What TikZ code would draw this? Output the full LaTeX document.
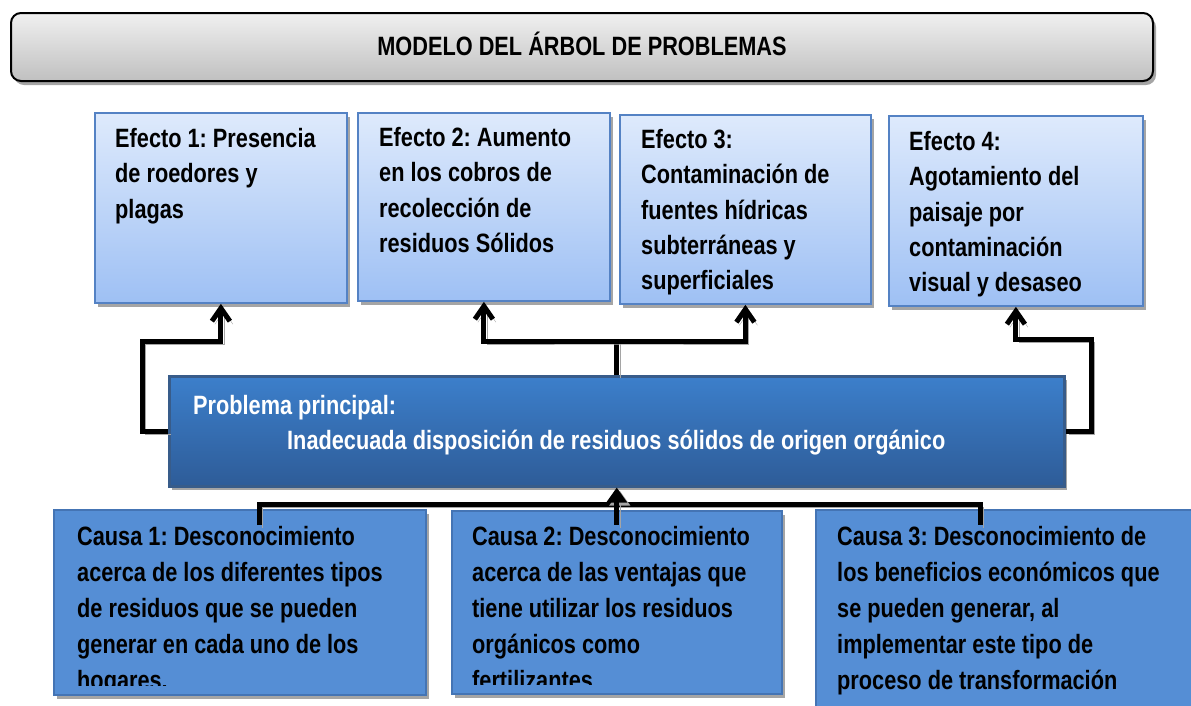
\documentclass[tikz,border=0pt]{standalone}
\usepackage{fontspec}
\setmainfont{Liberation Sans}[FakeStretch=0.82]
\usetikzlibrary{arrows.meta, positioning, shadows}
\definecolor{titletop}{RGB}{240,240,240}
\definecolor{titlebot}{RGB}{192,192,192}
\definecolor{efftop}{RGB}{222,234,252}
\definecolor{effbot}{RGB}{158,192,244}
\definecolor{effline}{RGB}{84,130,196}
\definecolor{probtop}{RGB}{60,127,203}
\definecolor{probbot}{RGB}{46,92,152}
\definecolor{probline}{RGB}{56,92,138}
\definecolor{causefill}{RGB}{85,142,213}
\definecolor{causeline}{RGB}{68,116,180}
\definecolor{shadowgray}{RGB}{165,165,165}
\tikzset{
    boxshadow/.style={drop shadow={shadow xshift=3pt, shadow yshift=-4pt, fill=shadowgray, opacity=1}},
    titlebox/.style={rectangle, draw=black, line width=2pt, rounded corners=10pt, top color=titletop, bottom color=titlebot, anchor=north west, inner sep=0pt, minimum width=1142pt, minimum height=68pt, boxshadow},
    effbox/.style={rectangle, draw=effline, line width=1.8pt, top color=efftop, bottom color=effbot, anchor=north west, inner sep=0pt, boxshadow},
    probbox/.style={rectangle, draw=probline, line width=2.5pt, top color=probtop, bottom color=probbot, anchor=north west, inner sep=0pt, minimum width=895pt, minimum height=110pt, boxshadow},
    causebox/.style={rectangle, draw=causeline, line width=2pt, fill=causefill, anchor=north west, inner sep=0pt, boxshadow},
    btext/.style={align=left, inner sep=0pt, font=\fontsize{26.5}{36}\selectfont\bfseries\frenchspacing},
    efftext/.style={btext, font=\fontsize{26.5}{35.3}\selectfont\bfseries\frenchspacing},
    link/.style={line width=5pt, preaction={draw=shadowgray, transform canvas={shift={(3pt,-3pt)}}}},
    uplink/.style={link, -{Straight Barb[length=13pt, width=18pt]}}
}
\begin{document}
\begin{tikzpicture}[x=1pt, y=-1pt]
    \clip (0,0) rectangle (1191,705);

    % Title
    \node (title) [titlebox] at (10,12) {};
    \node (title_t) [btext, yshift=3pt] at (title.center) {MODELO DEL ÁRBOL DE PROBLEMAS};

    % Effects Row
    \node (e1) [effbox, minimum width=252pt, minimum height=190pt] at (94,112) {};
    \node (e2) [effbox, minimum width=252pt, minimum height=188pt] at (357,112) {};
    \node (e3) [effbox, minimum width=251pt, minimum height=189pt] at (619,114) {};
    \node (e4) [effbox, minimum width=254pt, minimum height=190pt] at (888,115) {};
    \node (e1_t) [efftext, below right=16pt and 21pt of e1.north west] {Efecto 1: Presencia\\de roedores y\\plagas};
    \node (e2_t) [efftext, below right=15pt and 22pt of e2.north west] {Efecto 2: Aumento\\en los cobros de\\recolección de\\residuos Sólidos};
    \node (e3_t) [efftext, below right=15pt and 22pt of e3.north west] {Efecto 3:\\Contaminación de\\fuentes hídricas\\subterráneas y\\superficiales};
    \node (e4_t) [efftext, below right=16pt and 21pt of e4.north west] {Efecto 4:\\Agotamiento del\\paisaje por\\contaminación\\visual y desaseo};

    % Main problem
    \node (prob) [probbox] at (168,375) {};
    \node (prob_t1) [btext, text=white, below right=20pt and 25pt of prob.north west] {Problema principal:};
    \node (prob_t2) [btext, text=white, below right=55pt and 119pt of prob.north west] {Inadecuada disposición de residuos sólidos de origen orgánico};

    % Causes Row
    \node (c1) [causebox, minimum width=372pt, minimum height=185pt] at (53,509) {};
    \node (c2) [causebox, minimum width=330pt, minimum height=183pt] at (451,510) {};
    \node (c3) [causebox, minimum width=400pt, minimum height=220pt] at (815,509) {};
    \begin{scope}
        \clip (c1.north west) rectangle ([yshift=11pt]c1.south east);
        \node (c1_t) [btext, below right=17pt and 24pt of c1.north west] {Causa 1: Desconocimiento\\acerca de los diferentes tipos\\de residuos que se pueden\\generar en cada uno de los\\hogares.};
    \end{scope}
    \begin{scope}
        \clip (c2.north west) rectangle ([yshift=11pt]c2.south east);
        \node (c2_t) [btext, below right=16pt and 21pt of c2.north west] {Causa 2: Desconocimiento\\acerca de las ventajas que\\tiene utilizar los residuos\\orgánicos como\\fertilizantes.};
    \end{scope}
    \node (c3_t) [btext, below right=17pt and 22pt of c3.north west] {Causa 3: Desconocimiento de\\los beneficios económicos que\\se pueden generar, al\\implementar este tipo de\\proceso de transformación};

    % Junctions
    \coordinate (jl) at (142,341);
    \coordinate (jm) at (617,341);
    \coordinate (jr) at (1091,339);
    \coordinate (jb) at (617,504);
    \coordinate (b1) at (259,525);
    \coordinate (b3) at (980,525);
    \coordinate (b2) at ([yshift=-37pt]prob.south);

    % Problem -> effects
    \draw [uplink] (prob.west) -| (jl) -| (e1.south);
    \draw [link] (prob.north) -- (prob.north |- jm);
    \draw [link, {Straight Barb[length=13pt, width=18pt]}-{Straight Barb[length=13pt, width=18pt]}] (e2.south) |- (jm) -| (e3.south);
    \draw [uplink] (prob.east) -| (jr) -| (e4.south);

    % Causes -> problem
    \draw [link] (b1) |- (jb) -| (b3);
    \draw [link, -{Triangle[length=15pt, width=20pt]}] (b2) -- (prob.south);
\end{tikzpicture}
\end{document}
